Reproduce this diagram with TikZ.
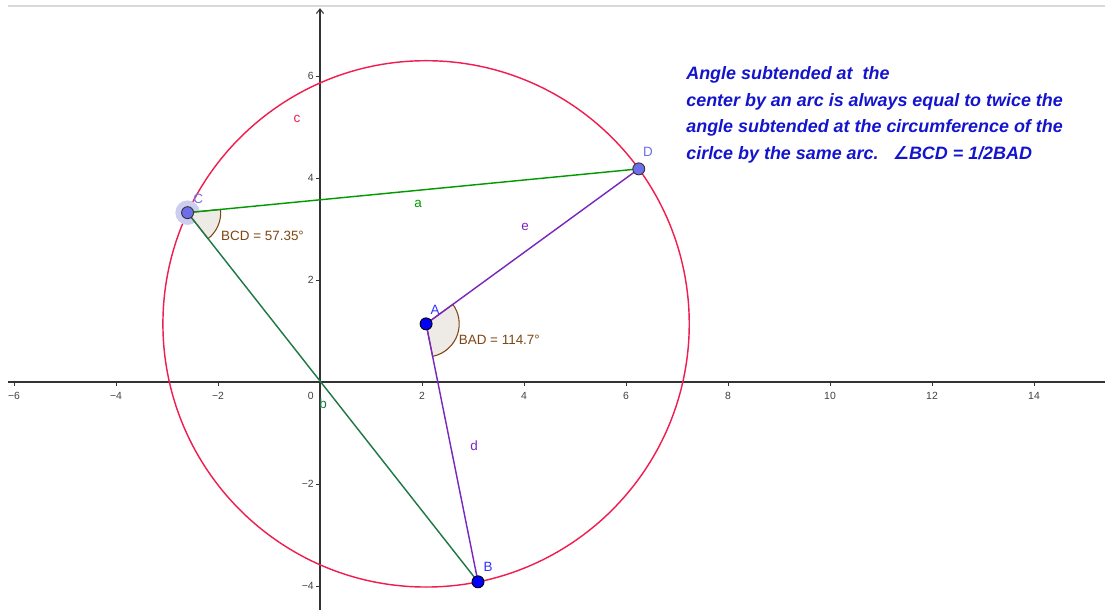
\documentclass[tikz,border=0pt]{standalone}
\usepackage{fontspec}
\setmainfont{Liberation Sans}
\newfontfamily\symfont{DejaVu Sans}
\usetikzlibrary{arrows.meta}

\definecolor{circred}{RGB}{240,30,80}
\definecolor{chordgreen}{RGB}{0,155,0}
\definecolor{darkgreen}{RGB}{30,120,70}
\definecolor{radpurple}{RGB}{120,40,190}
\definecolor{anglebrown}{RGB}{127,70,20}
\definecolor{anglefill}{RGB}{238,234,230}
\definecolor{ptblue}{RGB}{0,0,255}
\definecolor{ptlightblue}{RGB}{110,110,235}
\definecolor{halo}{RGB}{205,205,240}
\definecolor{noteblue}{RGB}{20,20,205}

\begin{document}
\begin{tikzpicture}[x=1cm,y=1cm,
  every node/.style={font=\fontsize{7.5}{9}\selectfont},
  axis/.style={line width=0.6pt,black!80},
  ticklab/.style={font=\fontsize{5.8}{7}\selectfont,text=black!75,inner sep=1pt},
  seg/.style={line width=0.8pt},
  anglemark/.style={draw=anglebrown,fill=anglefill,line width=0.6pt},
  dotdark/.style={circle,draw=black,fill=ptblue,line width=0.5pt,inner sep=0pt,minimum size=0.235cm},
  dotlight/.style={circle,draw=black!80,fill=ptlightblue,line width=0.5pt,inner sep=0pt,minimum size=0.235cm},
  lab/.style={inner sep=1pt}]
  \useasboundingbox (-6.2745,-4.4706) rectangle (15.3922,7.4902);

  % frame line and axes
  \draw[black!15,line width=0.8pt] (-6.118,7.373) -- (15.3922,7.373);
  \draw[axis] (-6.118,0) -- (15.3922,0);
  \draw[axis,-{Straight Barb[length=2.5pt,width=4pt]}] (0,-4.4706) -- (0,7.33);
  \foreach \x/\t in {-6/−6,-4/−4,-2/−2,2/2,4/4,6/6,8/8,10/10,12/12,14/14}{
    \draw[axis,line width=0.5pt] (\x,0) -- (\x,-0.07);
    \node[ticklab,anchor=base] at (\x,-0.35) {\t};
  }
  \foreach \y/\t in {-4/−4,-2/−2,2/2,4/4,6/6}{
    \draw[axis,line width=0.5pt] (0,\y) -- (-0.07,\y);
    \node[ticklab,anchor=east] at (-0.08,\y) {\t};
  }
  \node[ticklab,anchor=base east] at (-0.08,-0.35) {0};

  % points on the circle
  \coordinate (A) at (2.08,1.14);
  \path (A) ++(-78.62:5.16) coordinate (B);
  \path (A) ++(155:5.16) coordinate (C);
  \path (A) ++(36.08:5.16) coordinate (D);

  % circle c
  \draw[circred,line width=0.8pt] (A) circle (5.16);

  % angle marks
  \fill[halo] (C) circle (0.24);
  \draw[anglemark] (A) -- ++(-78.62:0.65) arc[start angle=-78.62,end angle=36.08,radius=0.65] -- cycle;
  \draw[anglemark] (C) -- ++(-51.81:0.65) arc[start angle=-51.81,end angle=5.55,radius=0.65] -- cycle;

  % segments
  \draw[seg,chordgreen] (C) -- (D);
  \draw[seg,darkgreen] (C) -- (B);
  \draw[seg,radpurple] (A) -- (B);
  \draw[seg,radpurple] (A) -- (D);

  % points
  \node[dotdark] (pA) at (A) {};
  \node[dotdark] (pB) at (B) {};
  \node[dotlight] (pC) at (C) {};
  \node[dotlight] (pD) at (D) {};

  % labels
  \node[lab,text=blue!80] at (2.255,1.41) {A};
  \node[lab,text=blue!80] at (3.294,-3.627) {B};
  \node[lab,text=ptlightblue] at (-2.39,3.59) {C};
  \node[lab,text=ptlightblue] at (6.43,4.51) {D};
  \node[lab,text=chordgreen] at (1.922,3.49) {a};
  \node[lab,text=darkgreen] at (0.06,-0.43) {b};
  \node[lab,text=circred] at (-0.45,5.157) {c};
  \node[lab,text=radpurple] at (3.02,-1.255) {d};
  \node[lab,text=radpurple] at (4.02,3.04) {e};
  \node[lab,anchor=west,text=anglebrown] at (2.68,0.824) {BAD = 114.7°};
  \node[lab,anchor=west,text=anglebrown] at (-1.98,2.863) {BCD = 57.35°};

  % note
  \node[anchor=north west,align=left,inner sep=0pt,text=noteblue,
        font=\fontsize{10}{15}\selectfont\bfseries\itshape] (note) at (7.176,6.2)
    {Angle subtended at\ \ the\\
     center by an arc is always equal to twice the\\
     angle subtended at the circumference of the\\
     cirlce by the same arc.\hspace{0.8em}{\symfont ∠}BCD = 1/2BAD};
\end{tikzpicture}
\end{document}
